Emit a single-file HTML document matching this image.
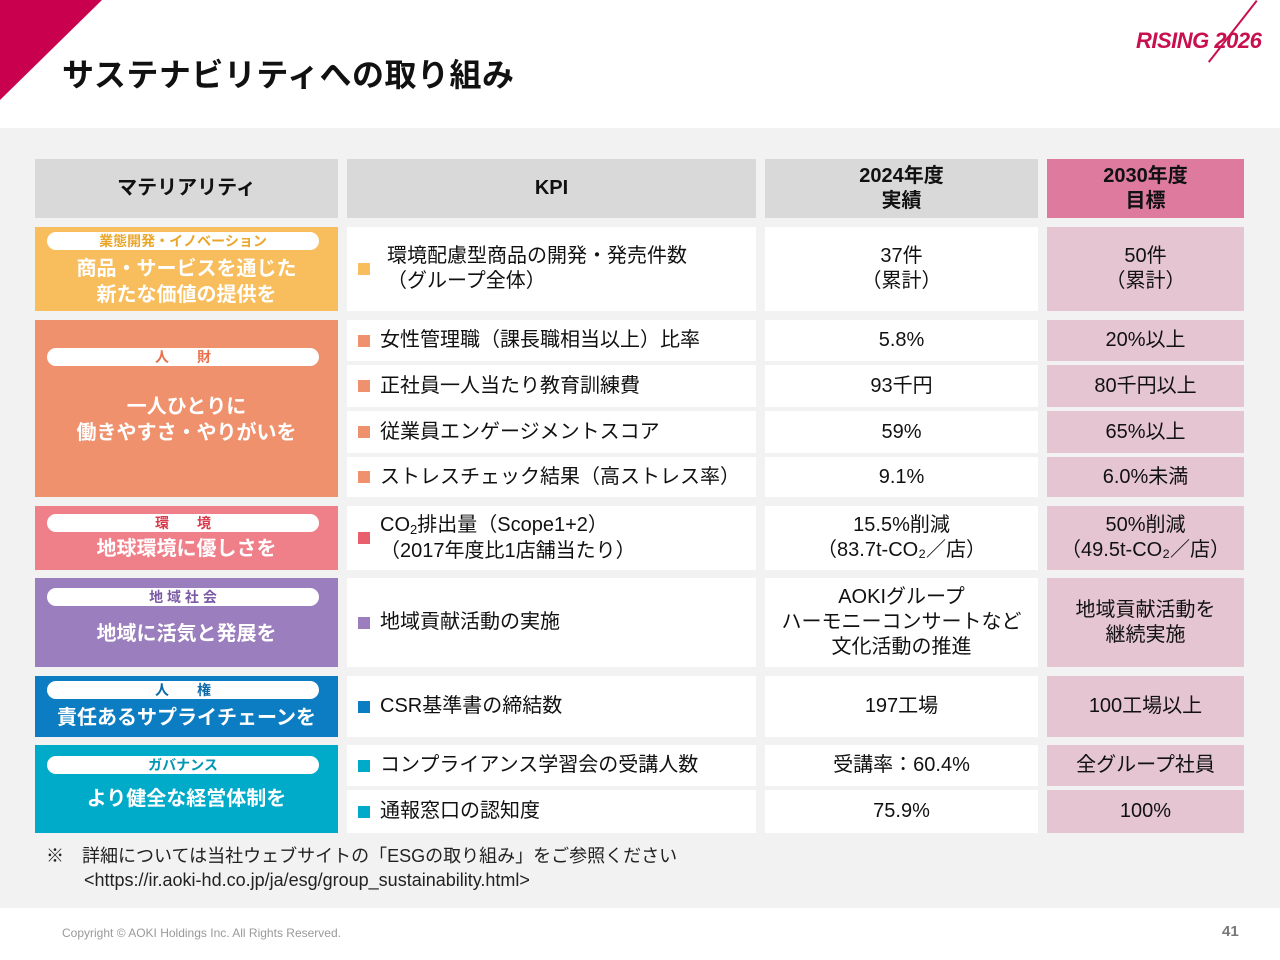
<!DOCTYPE html>
<html><head><meta charset="utf-8"><style>
*{margin:0;padding:0;box-sizing:border-box}
body{width:1280px;height:960px;position:relative;background:#fff;font-family:"Liberation Sans","Noto Sans CJK JP",sans-serif;color:#111;overflow:hidden}
.a{position:absolute}
.c{position:absolute;display:flex;align-items:center;justify-content:center;text-align:center;font-size:20px;line-height:25px;background:#fff}
.t{background:#e4c5d1}
.k{position:absolute;display:flex;align-items:center;font-size:20px;line-height:25px;background:#fff;padding-left:33px}
.k i{position:absolute;left:11px;top:50%;margin-top:-6px;width:12px;height:12px}
.h{position:absolute;display:flex;align-items:center;justify-content:center;text-align:center;font-weight:bold;font-size:20px;line-height:25px;background:#d9d9d9}
.pill{position:absolute;left:12px;width:272px;height:18px;background:#fff;border-radius:9px;text-align:center;font-size:14px;line-height:18px;font-weight:bold}
.mt{position:absolute;left:0;width:303px;text-align:center;color:#fff;font-weight:bold;font-size:20px;line-height:26px}
</style></head><body>
<div class="a" style="left:0;top:0;width:0;height:0;border-top:100px solid #c8004e;border-right:102px solid transparent"></div>
<div class="a" style="left:62px;top:54px;font-size:32px;font-weight:bold;line-height:42px;letter-spacing:0.5px">サステナビリティへの取り組み</div>
<div class="a" style="left:1136px;top:28px;color:#c8104e;font-weight:bold;font-style:italic;font-size:22px;letter-spacing:-0.5px">RISING 2026</div>
<div class="a" style="top:0;width:2px;height:78px;background:#c8104e;transform:rotate(38deg);transform-origin:top left;left:1256px"></div>
<div class="a" style="left:0;top:128px;width:1280px;height:780px;background:#f2f2f2"></div>

<div class="h" style="left:35px;top:159px;width:303px;height:59px">マテリアリティ</div>
<div class="h" style="left:347px;top:159px;width:409px;height:59px">KPI</div>
<div class="h" style="left:765px;top:159px;width:273px;height:59px">2024年度<br>実績</div>
<div class="h" style="left:1047px;top:159px;width:197px;height:59px;background:#dd7a9e">2030年度<br>目標</div>

<div class="a" style="left:35px;top:227px;width:303px;height:84px;background:#f8bd5c">
<div class="pill" style="top:5px;color:#e9a62a">業態開発・イノベーション</div>
<div class="mt" style="top:29px">商品・サービスを通じた<br>新たな価値の提供を</div></div>
<div class="a" style="left:35px;top:320px;width:303px;height:177px;background:#f0916e">
<div class="pill" style="top:28px;color:#e8704a">人　　財</div>
<div class="mt" style="top:74px">一人ひとりに<br>働きやすさ・やりがいを</div></div>
<div class="a" style="left:35px;top:506px;width:303px;height:64px;background:#ef808a">
<div class="pill" style="top:8px;color:#d9384a">環　　境</div>
<div class="mt" style="top:30px">地球環境に優しさを</div></div>
<div class="a" style="left:35px;top:578px;width:303px;height:89px;background:#9b7ebd">
<div class="pill" style="top:10px;color:#7a5aa5">地 域 社 会</div>
<div class="mt" style="top:43px">地域に活気と発展を</div></div>
<div class="a" style="left:35px;top:676px;width:303px;height:61px;background:#0c7dc2">
<div class="pill" style="top:5px;color:#0b6aa8">人　　権</div>
<div class="mt" style="top:29px">責任あるサプライチェーンを</div></div>
<div class="a" style="left:35px;top:745px;width:303px;height:88px;background:#00abc9">
<div class="pill" style="top:11px;color:#0095b3">ガバナンス</div>
<div class="mt" style="top:41px">より健全な経営体制を</div></div>

<div class="k" style="left:347px;top:227px;width:409px;height:84px;padding-left:40px"><i style="background:#f8bd5c"></i><span>環境配慮型商品の開発・発売件数<br>（グループ全体）</span></div>
<div class="c" style="left:765px;top:227px;width:273px;height:84px">37件<br>（累計）</div>
<div class="c t" style="left:1047px;top:227px;width:197px;height:84px">50件<br>（累計）</div>

<div class="k" style="left:347px;top:320px;width:409px;height:41px"><i style="background:#f0916e"></i><span>女性管理職（課長職相当以上）比率</span></div>
<div class="c" style="left:765px;top:320px;width:273px;height:41px">5.8%</div>
<div class="c t" style="left:1047px;top:320px;width:197px;height:41px">20%以上</div>

<div class="k" style="left:347px;top:365px;width:409px;height:42px"><i style="background:#f0916e"></i><span>正社員一人当たり教育訓練費</span></div>
<div class="c" style="left:765px;top:365px;width:273px;height:42px">93千円</div>
<div class="c t" style="left:1047px;top:365px;width:197px;height:42px">80千円以上</div>

<div class="k" style="left:347px;top:411px;width:409px;height:42px"><i style="background:#f0916e"></i><span>従業員エンゲージメントスコア</span></div>
<div class="c" style="left:765px;top:411px;width:273px;height:42px">59%</div>
<div class="c t" style="left:1047px;top:411px;width:197px;height:42px">65%以上</div>

<div class="k" style="left:347px;top:457px;width:409px;height:40px"><i style="background:#f0916e"></i><span>ストレスチェック結果（高ストレス率）</span></div>
<div class="c" style="left:765px;top:457px;width:273px;height:40px">9.1%</div>
<div class="c t" style="left:1047px;top:457px;width:197px;height:40px">6.0%未満</div>

<div class="k" style="left:347px;top:506px;width:409px;height:64px"><i style="background:#e8606c"></i><span>CO<span style="font-size:13px;position:relative;top:3px">2</span>排出量（Scope1+2）<br>（2017年度比1店舗当たり）</span></div>
<div class="c" style="left:765px;top:506px;width:273px;height:64px">15.5%削減<br>（83.7t-CO₂／店）</div>
<div class="c t" style="left:1047px;top:506px;width:197px;height:64px">50%削減<br>（49.5t-CO₂／店）</div>

<div class="k" style="left:347px;top:578px;width:409px;height:89px"><i style="background:#9b7ebd"></i><span>地域貢献活動の実施</span></div>
<div class="c" style="left:765px;top:578px;width:273px;height:89px">AOKIグループ<br>ハーモニーコンサートなど<br>文化活動の推進</div>
<div class="c t" style="left:1047px;top:578px;width:197px;height:89px">地域貢献活動を<br>継続実施</div>

<div class="k" style="left:347px;top:676px;width:409px;height:61px"><i style="background:#0c7dc2"></i><span>CSR基準書の締結数</span></div>
<div class="c" style="left:765px;top:676px;width:273px;height:61px">197工場</div>
<div class="c t" style="left:1047px;top:676px;width:197px;height:61px">100工場以上</div>

<div class="k" style="left:347px;top:745px;width:409px;height:41px"><i style="background:#00abc9"></i><span>コンプライアンス学習会の受講人数</span></div>
<div class="c" style="left:765px;top:745px;width:273px;height:41px">受講率：60.4%</div>
<div class="c t" style="left:1047px;top:745px;width:197px;height:41px">全グループ社員</div>

<div class="k" style="left:347px;top:790px;width:409px;height:43px"><i style="background:#00abc9"></i><span>通報窓口の認知度</span></div>
<div class="c" style="left:765px;top:790px;width:273px;height:43px">75.9%</div>
<div class="c t" style="left:1047px;top:790px;width:197px;height:43px">100%</div>

<div class="a" style="left:46px;top:844px;font-size:18px;line-height:24px;color:#222">※　詳細については当社ウェブサイトの「ESGの取り組み」をご参照ください<br><span style="padding-left:38px">&lt;https://ir.aoki-hd.co.jp/ja/esg/group_sustainability.html&gt;</span></div>
<div class="a" style="left:62px;top:926px;font-size:12px;color:#999">Copyright © AOKI Holdings Inc. All Rights Reserved.</div>
<div class="a" style="left:1222px;top:923px;font-size:15px;font-weight:bold;color:#777">41</div>
</body></html>
